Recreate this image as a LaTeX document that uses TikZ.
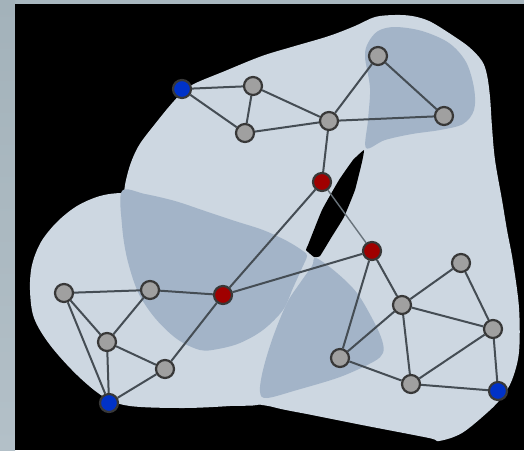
\documentclass[tikz,border=0pt]{standalone}
\pgfdeclarelayer{bglayer}
\pgfdeclarelayer{edgelayer}
\pgfsetlayers{bglayer,edgelayer,main}
\begin{document}
\definecolor{framecol}{HTML}{A8B7BF}
\definecolor{frametop}{HTML}{A3B2BA}
\definecolor{framemid}{HTML}{8A979D}
\definecolor{framebot}{HTML}{B3C0C8}
\definecolor{lightblob}{HTML}{CDD7E1}
\definecolor{darkblob}{HTML}{A3B4C8}
\definecolor{edgecol}{HTML}{454D54}
\definecolor{thincol}{HTML}{69737B}
\definecolor{nodeborder}{HTML}{383838}
\definecolor{nodegray}{HTML}{A0A0A0}
\definecolor{nodered}{HTML}{A00000}
\definecolor{nodeblue}{HTML}{0032C8}
\begin{tikzpicture}[x=1pt,y=-1pt,
  vtx/.style={circle,draw=nodeborder,line width=2.2pt,minimum size=18pt,inner sep=0pt},
  gnode/.style={vtx,fill=nodegray},
  rnode/.style={vtx,fill=nodered},
  bnode/.style={vtx,fill=nodeblue},
  edge/.style={draw=edgecol,line width=2pt},
  thinedge/.style={draw=thincol,line width=1.4pt},
  lightfill/.style={fill=lightblob},
  darkfill/.style={fill=darkblob}]
\useasboundingbox (0,0) rectangle (524,450);
\begin{pgfonlayer}{bglayer}
% frame
\fill[framecol] (0,0) rectangle (524,450);
\shade[top color=frametop,middle color=framemid,bottom color=framebot] (0,0) rectangle (15,450);
\fill[black] (15,4) rectangle (524,450);
% light blobs
\fill[lightfill] plot[smooth cycle,tension=0.55] coordinates {(262,56) (295,46) (329,36) (355,26) (375,17) (395,15) (412,16) (429,21) (449,33) (469,47) (482,61) (487,75) (490,97) (492,127) (495,160) (502,200) (507,230) (513,262) (519,308) (519,352) (512,380) (502,397) (489,411) (462,433) (439,441) (429,438) (362,425) (312,415) (273,407) (240,395) (170,330) (130,250) (124,200) (128,172) (138,147) (155,124) (174,101) (190,86) (225,71)};
\fill[lightfill] plot[smooth cycle,tension=0.55] coordinates {(123,193) (100,196) (77,206) (57,222) (41,242) (32,265) (30,290) (34,318) (50,345) (77,375) (104,397) (130,406) (183,408) (230,406) (263,403) (275,380) (260,300) (200,220) (150,196)};
% dark blobs
\fill[darkfill] plot[smooth cycle,tension=0.55] coordinates {(365,57) (368,43) (378,31) (395,27) (422,31) (449,43) (466,62) (474,88) (474,110) (463,124) (440,130) (412,134) (385,140) (366,148) (368,120) (370,88)};
\fill[darkfill] plot[smooth cycle,tension=0.55] coordinates {(122,191) (145,194) (175,201) (205,211) (235,221) (263,230) (287,241) (303,251) (307,256) (302,268) (293,288) (283,310) (263,330) (240,343) (218,349) (200,350) (177,339) (155,318) (138,292) (127,258) (122,225)};
\fill[darkfill] plot[smooth cycle,tension=0.55] coordinates {(316,258) (337,273) (357,293) (373,320) (382,340) (383,353) (373,362) (340,377) (297,390) (267,398) (260,392) (263,370) (273,337) (287,303) (300,283) (312,266)};
% black sliver
\fill[black] plot[smooth cycle,tension=0.2] coordinates {(364,150) (362,162) (355,190) (344,217) (331,238) (320,256) (314,257) (306,250) (308,245) (322,210) (339,180) (353,160)};
\end{pgfonlayer}
% nodes
\node[bnode] (b1) at (182,89) {};
\node[gnode] (g1) at (253,86) {};
\node[gnode] (g2) at (245,133) {};
\node[gnode] (g3) at (329,121) {};
\node[gnode] (g4) at (378,56) {};
\node[gnode] (g5) at (444,116) {};
\node[rnode] (r1) at (322,182) {};
\node[rnode] (r2) at (372,251) {};
\node[rnode] (r3) at (223,295) {};
\node[gnode] (g6) at (64,293) {};
\node[gnode] (g7) at (150,290) {};
\node[gnode] (g8) at (107,342) {};
\node[gnode] (g9) at (165,369) {};
\node[bnode] (b2) at (109,403) {};
\node[gnode] (g10) at (402,305) {};
\node[gnode] (g11) at (461,263) {};
\node[gnode] (g12) at (493,329) {};
\node[gnode] (g13) at (340,358) {};
\node[gnode] (g14) at (411,384) {};
\node[bnode] (b3) at (498,391) {};
% edges
\begin{pgfonlayer}{edgelayer}
\path[edge] (b1) -- (g1) (b1) -- (g2) (g1) -- (g2) (g1) -- (g3) (g2) -- (g3)
  (g3) -- (g4) (g3) -- (g5) (g4) -- (g5) (g3) -- (r1)
  (r1) -- (r3) (r3) -- (r2) (r3) -- (g7) (r3) -- (g9)
  (g6) -- (g7) (g6) -- (g8) (g6) -- (b2) (g7) -- (g8) (g8) -- (g9) (g8) -- (b2) (g9) -- (b2)
  (r2) -- (g13) (r2) -- (g10) (g10) -- (g11) (g10) -- (g12) (g10) -- (g13) (g10) -- (g14)
  (g11) -- (g12) (g12) -- (g14) (g12) -- (b3) (g13) -- (g14) (g14) -- (b3);
\path[thinedge] (r1) -- (r2);
\end{pgfonlayer}
\end{tikzpicture}
\end{document}
